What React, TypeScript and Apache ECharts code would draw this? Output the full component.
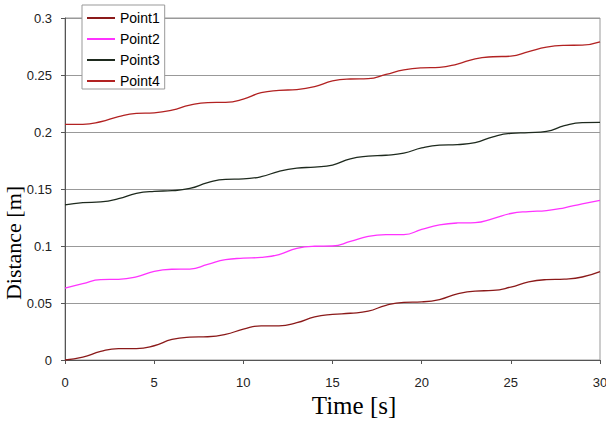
import React, { useEffect, useRef } from "react";
import * as echarts from "echarts";

const times = [0,1,2,3,4,5,6,7,8,9,10,11,12,13,14,15,16,17,18,19,20,21,22,23,24,25,26,27,28,29,30];
const point1 = [0,0.0025,0.0075,0.010,0.010,0.0125,0.018,0.020,0.0204,0.0225,0.027,0.030,0.030,0.0327,0.0378,0.040,0.041,0.0428,0.048,0.0506,0.051,0.053,0.058,0.0605,0.061,0.064,0.0685,0.0705,0.071,0.0728,0.0775];
const point2 = [0.063,0.067,0.0705,0.0708,0.073,0.0778,0.0796,0.0798,0.0838,0.088,0.0893,0.090,0.0925,0.098,0.0998,0.100,0.104,0.1085,0.110,0.110,0.1145,0.1185,0.1202,0.1205,0.124,0.1285,0.1302,0.131,0.1335,0.137,0.140];
const point3 = [0.136,0.138,0.1387,0.1415,0.1462,0.148,0.1485,0.1505,0.1555,0.1585,0.1588,0.1608,0.1655,0.1683,0.1692,0.171,0.1765,0.1788,0.1796,0.1815,0.186,0.1885,0.189,0.1907,0.1958,0.1988,0.1994,0.2005,0.2055,0.2083,0.2085];
const point4 = [0.2067,0.2067,0.209,0.2135,0.2163,0.2168,0.2191,0.2235,0.2258,0.226,0.2288,0.2345,0.2365,0.2372,0.2398,0.2448,0.2465,0.2468,0.2505,0.2545,0.2563,0.2567,0.2596,0.2642,0.266,0.2665,0.2705,0.2745,0.276,0.2762,0.279];
const seriesNames = ["Point1", "Point2", "Point3", "Point4"];
const seriesColors = ["#8B1A1A", "#FF33FF", "#1E2A1E", "#B22222"];
const xAxisTitle = "Time [s]";
const yAxisTitle = "Distance [m]";

export default function App() {
  const ref = useRef<HTMLDivElement>(null);
  useEffect(() => {
    if (!ref.current) return;
    const chart = echarts.init(ref.current, undefined, { renderer: "svg" });
    const all = [point1, point2, point3, point4];
    const labelFont = "Liberation Sans, Arial, sans-serif";
    const serif = "Liberation Serif, Times New Roman, serif";
    chart.setOption({
      animation: false,
      backgroundColor: "#fff",
      grid: {
        left: 65, right: 6, top: 18, bottom: 63,
        containLabel: false,
        outerBoundsMode: "none",
        show: true, borderColor: "#999", borderWidth: 1,
      },
      legend: {
        orient: "vertical",
        left: 82, top: 5,
        backgroundColor: "#fff",
        borderColor: "#999", borderWidth: 1,
        padding: [6, 5, 1, 5],
        itemGap: 7,
        icon: "rect",
        itemWidth: 28, itemHeight: 2,
        textStyle: { fontFamily: labelFont, fontSize: 14, color: "#000", lineHeight: 14 },
        data: seriesNames,
      },
      graphic: [
        {
          type: "text", x: 354, y: 405,
          style: { text: xAxisTitle, fontFamily: serif, fontSize: 25, fill: "#000", align: "center", verticalAlign: "middle" },
        },
        {
          type: "text", x: 13, y: 243, rotation: Math.PI / 2,
          style: { text: yAxisTitle, fontFamily: serif, fontSize: 22, fill: "#000", align: "center", verticalAlign: "middle" },
        },
      ],
      xAxis: {
        type: "value", min: 0, max: 30, interval: 5,
        axisLine: { lineStyle: { color: "#555", width: 1 } },
        axisTick: { show: true, length: 4, lineStyle: { color: "#555" } },
        axisLabel: { fontFamily: labelFont, fontSize: 13, color: "#222", margin: 16 },
        splitLine: { show: false },
      },
      yAxis: {
        type: "value", min: 0, max: 0.3, interval: 0.05,
        axisLine: { show: true, lineStyle: { color: "#555", width: 1 } },
        axisTick: { show: true, length: 4, lineStyle: { color: "#555" } },
        axisLabel: { fontFamily: labelFont, fontSize: 13, color: "#222", margin: 13 },
        splitLine: { show: true, lineStyle: { color: "#999", width: 1 } },
      },
      series: all.map((vals, i) => ({
        name: seriesNames[i],
        type: "line",
        data: times.map((t, j) => [t, vals[j]]),
        smooth: 0.5,
        symbol: "none",
        lineStyle: { color: seriesColors[i], width: 1.3 },
        itemStyle: { color: seriesColors[i] },
      })),
    });
    return () => chart.dispose();
  }, []);
  return <div ref={ref} style={{ width: 606, height: 423, position: "absolute", left: 0, top: 0 }} />;
}
